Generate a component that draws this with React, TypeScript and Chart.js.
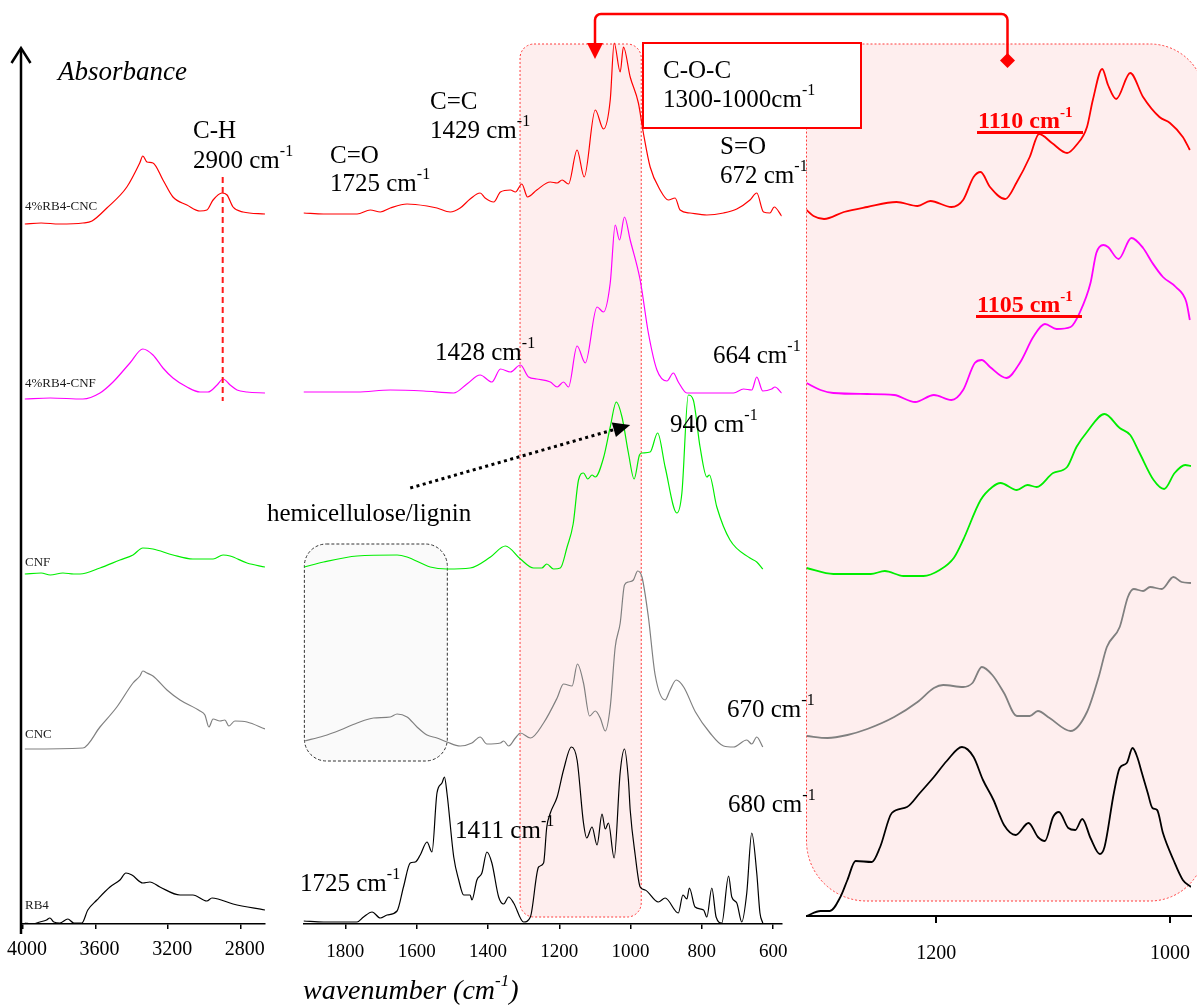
import React, { useEffect, useRef } from 'react';
import { Chart, registerables } from 'chart.js';

Chart.register(...registerables);

type Pt = [number, number];

const W = 1197;
const H = 1005;
const TOP = 34;
const SERIF = "'Liberation Serif', 'Times New Roman', Times, serif";

// ---- axis ticks (wavenumber, cm-1) ----
const TICKS_OH = [4000, 3600, 3200, 2800];
const TICKS_FP = [1800, 1600, 1400, 1200, 1000, 800, 600];
const TICKS_COC = [1200, 1000];

// ---- panel wavenumber ranges [min, max] ----
const RANGE_OH: Pt = [2667, 4000];
const RANGE_FP: Pt = [576, 1918];
const RANGE_COC: Pt = [982, 1311];
// C-O-C stretching window highlighted in the fingerprint panel (left edge, right edge)
const COC_BAND: Pt = [1310, 970];
const CH_BAND = 2900;

// ---- sample names and colours ----
const SAMPLES = ['4%RB4-CNC', '4%RB4-CNF', 'CNF', 'CNC', 'RB4'];
const COLORS = ['#ff0000', '#ff00ff', '#00ee00', '#808080', '#000000'];

// ---- O-H / C-H region (4000-2667 cm-1), offset absorbance ----
const CNC4_OH: Pt[] = [[3990,70.0],[3900,70.1],[3800,70.0],[3670,70.1],[3620,70.3],[3538,71.6],[3428,73.7],[3357,76.1],[3340,76.8],[3317,76.2],[3284,76.1],[3229,74.4],[3174,72.7],[3097,71.9],[3025,71.3],[2987,71.4],[2953,72.4],[2904,73.1],[2876,72.9],[2843,71.7],[2788,71.2],[2667,71.0]];
const CNF4_OH: Pt[] = [[3990,52.5],[3850,52.6],[3670,52.5],[3576,53.1],[3504,54.2],[3411,56.1],[3340,57.5],[3284,56.9],[3229,55.6],[3174,54.6],[3097,53.7],[3025,53.2],[2981,53.2],[2931,53.9],[2898,54.5],[2859,53.9],[2821,53.4],[2766,53.2],[2667,53.1]];
const CNF_OH: Pt[] = [[3990,35.0],[3900,35.1],[3850,34.9],[3780,35.1],[3720,35.0],[3686,35.0],[3576,35.6],[3466,36.4],[3394,36.9],[3340,37.6],[3284,37.5],[3174,36.9],[3064,36.5],[2953,36.5],[2898,36.9],[2859,36.8],[2766,36.1],[2667,35.7]];
const CNC_OH: Pt[] = [[3990,17.5],[3670,17.6],[3576,19.7],[3483,21.7],[3394,24.1],[3356,24.8],[3340,25.3],[3317,25.1],[3284,24.8],[3207,23.4],[3135,22.4],[3025,21.3],[2998,20.9],[2976,19.7],[2953,20.5],[2915,20.3],[2888,20.4],[2866,19.8],[2833,20.3],[2766,20.2],[2667,19.5]];
const RB4_OH: Pt[] = [[3990,0.1],[3950,0.0],[3907,0.2],[3870,0.4],[3852,0.6],[3830,0.2],[3797,0.1],[3753,0.5],[3720,0.1],[3676,0.1],[3643,1.4],[3593,2.4],[3521,3.7],[3466,4.4],[3433,5.1],[3400,4.9],[3340,4.1],[3301,4.2],[3246,3.7],[3135,2.9],[3064,2.9],[2987,2.3],[2959,2.6],[2926,2.5],[2843,2.0],[2667,1.4]];

// ---- fingerprint region (1918-576 cm-1) ----
const CNC4_FP: Pt[] = [[1917,71.1],[1861,71.0],[1767,71.0],[1730,71.4],[1702,71.2],[1674,71.6],[1627,72.0],[1571,71.8],[1543,71.6],[1506,71.2],[1478,71.6],[1450,72.5],[1422,73.1],[1408,72.6],[1384,72.2],[1365,73.2],[1337,73.4],[1323,73.2],[1305,74.0],[1289,72.7],[1263,73.4],[1225,74.2],[1206,74.1],[1192,74.4],[1174,74.0],[1150,77.4],[1130,74.7],[1099,81.4],[1076,79.5],[1057,82.4],[1046,88.1],[1029,85.2],[1020,87.7],[1001,84.7],[978,82.1],[964,79.1],[945,75.7],[917,73.4],[894,72.4],[875,72.6],[861,71.4],[833,71.1],[786,70.9],[739,71.1],[702,71.5],[665,72.4],[646,73.1],[627,71.2],[609,71.1],[597,71.7],[576,70.8]];
const CNF4_FP: Pt[] = [[1917,53.2],[1767,53.2],[1674,53.4],[1580,53.3],[1496,53.1],[1459,54.0],[1422,54.9],[1389,54.2],[1365,55.5],[1337,55.2],[1309,55.9],[1286,54.7],[1263,54.5],[1225,54.2],[1206,53.7],[1188,54.2],[1174,53.7],[1150,57.8],[1127,56.1],[1094,61.7],[1076,61.2],[1057,64.1],[1043,69.9],[1031,68.4],[1017,70.7],[1001,68.4],[973,64.4],[950,59.1],[926,55.4],[898,54.3],[880,55.1],[866,54.2],[842,53.1],[795,53.1],[711,53.1],[683,53.5],[660,53.4],[646,54.7],[629,53.3],[604,53.5],[595,53.7],[576,53.1]];
const CNF_FP: Pt[] = [[1915,35.7],[1861,36.2],[1767,36.8],[1655,36.9],[1627,36.7],[1562,35.7],[1515,35.5],[1450,35.6],[1393,36.7],[1351,37.8],[1309,36.5],[1272,35.6],[1249,35.6],[1235,36.0],[1216,35.5],[1197,35.6],[1178,37.7],[1161,40.0],[1146,44.4],[1132,45.1],[1120,44.5],[1108,44.9],[1099,44.7],[1076,46.6],[1057,49.7],[1040,52.2],[1024,50.7],[1006,47.1],[990,44.5],[975,46.9],[968,47.1],[945,47.2],[924,49.1],[903,45.7],[870,41.1],[856,43.1],[838,52.9],[824,52.4],[805,47.7],[786,44.7],[779,44.9],[758,41.7],[721,38.4],[665,36.6],[646,36.2],[629,35.5]];
const CNC_FP: Pt[] = [[1915,18.3],[1861,18.8],[1814,19.4],[1767,20.1],[1721,20.6],[1674,20.7],[1655,21.0],[1627,20.7],[1599,19.7],[1571,18.9],[1543,18.6],[1515,18.2],[1478,17.8],[1445,18.1],[1422,18.7],[1403,18.0],[1365,18.1],[1356,18.3],[1342,17.8],[1323,18.6],[1309,19.1],[1281,18.6],[1244,20.1],[1206,22.6],[1188,24.0],[1164,23.8],[1149,26.0],[1132,24.1],[1115,20.8],[1099,21.3],[1085,20.6],[1071,19.3],[1057,21.7],[1043,27.7],[1029,30.1],[1017,33.9],[1006,34.2],[992,34.4],[980,35.3],[968,34.7],[950,30.7],[931,24.9],[903,22.4],[889,23.4],[872,24.4],[851,23.7],[818,21.2],[777,19.1],[739,17.8],[711,17.7],[674,18.4],[660,18.0],[646,18.7],[629,17.7]];
const RB4_FP: Pt[] = [[1917,0.3],[1861,0.2],[1767,0.2],[1749,0.7],[1725,1.2],[1702,0.6],[1683,0.9],[1655,1.3],[1637,3.7],[1618,6.1],[1604,6.2],[1590,6.9],[1571,8.2],[1557,7.2],[1543,13.1],[1529,14.1],[1522,14.7],[1515,13.1],[1496,6.7],[1482,4.4],[1468,2.9],[1450,2.9],[1445,2.4],[1431,4.4],[1417,5.1],[1403,7.2],[1389,6.1],[1370,2.7],[1356,2.0],[1342,2.7],[1328,2.1],[1300,0.2],[1281,0.7],[1258,5.7],[1244,6.1],[1235,9.7],[1225,11.1],[1206,12.7],[1188,15.4],[1166,17.7],[1150,16.4],[1132,10.1],[1123,8.6],[1108,9.7],[1094,7.9],[1080,11.0],[1071,9.5],[1062,10.1],[1046,6.6],[1029,15.2],[1017,17.5],[1006,14.4],[1001,11.4],[987,6.9],[973,3.7],[959,3.4],[922,2.2],[903,2.6],[866,1.1],[853,2.9],[842,2.5],[835,3.6],[819,1.7],[795,1.4],[786,0.7],[772,3.6],[760,0.7],[744,0.1],[725,4.8],[716,2.7],[702,2.1],[688,0.2],[674,3.1],[660,9.1],[646,5.1],[637,1.1],[629,0.1]];

// ---- C-O-C region (1311-982 cm-1), rescaled ----
const CNC4_COC: Pt[] = [[1311,70.6],[1305,70.0],[1296,69.7],[1279,70.4],[1259,70.9],[1234,71.4],[1216,71.0],[1205,71.5],[1187,70.9],[1177,71.6],[1168,73.9],[1162,74.4],[1154,72.9],[1141,71.7],[1131,73.4],[1120,75.9],[1112,78.2],[1101,77.3],[1088,76.3],[1080,77.1],[1071,78.9],[1066,81.6],[1058,84.7],[1053,83.1],[1046,81.7],[1034,84.3],[1023,81.9],[1009,79.9],[1000,79.3],[989,77.9],[983,76.6]];
const CNF4_COC: Pt[] = [[1311,53.3],[1299,52.6],[1288,52.3],[1259,52.2],[1236,52.1],[1218,51.4],[1202,52.1],[1187,51.6],[1177,52.6],[1167,55.3],[1161,55.6],[1154,54.9],[1140,53.8],[1128,55.4],[1117,57.9],[1107,59.2],[1097,58.7],[1085,58.9],[1077,60.4],[1068,63.3],[1063,66.3],[1057,67.1],[1053,66.9],[1044,65.7],[1033,67.8],[1023,66.8],[1015,65.3],[1006,63.9],[995,62.9],[986,61.4],[983,59.6]];
const CNF_COC: Pt[] = [[1311,34.8],[1288,34.2],[1256,34.2],[1244,34.5],[1228,34.0],[1211,34.0],[1197,34.6],[1185,35.8],[1177,37.6],[1162,41.6],[1152,42.9],[1145,43.3],[1131,42.6],[1122,43.1],[1114,42.9],[1100,44.3],[1088,44.9],[1080,46.9],[1071,48.4],[1056,50.2],[1043,48.8],[1034,48.1],[1026,46.3],[1014,43.6],[1005,42.7],[996,44.3],[987,45.1],[982,45.0]];
const CNC_COC: Pt[] = [[1311,18.0],[1293,17.8],[1276,18.1],[1259,18.7],[1236,19.9],[1216,21.4],[1202,22.8],[1194,23.1],[1177,22.9],[1169,23.3],[1161,24.9],[1152,24.1],[1142,22.3],[1131,20.0],[1120,20.0],[1113,20.5],[1103,19.8],[1085,18.5],[1071,20.4],[1061,23.9],[1054,26.9],[1043,28.9],[1036,31.9],[1031,32.7],[1023,32.5],[1017,32.9],[1007,32.7],[997,33.9],[990,33.4],[982,33.3]];
const RB4_COC: Pt[] = [[1311,0.0],[1299,0.5],[1291,0.5],[1282,1.9],[1276,3.6],[1269,5.5],[1255,5.4],[1248,6.9],[1238,10.3],[1225,10.9],[1214,12.3],[1202,13.9],[1191,15.5],[1178,16.9],[1168,15.9],[1160,13.6],[1151,11.6],[1142,9.1],[1132,8.1],[1121,9.3],[1113,7.9],[1107,7.5],[1100,9.9],[1095,10.4],[1087,8.8],[1081,8.6],[1075,9.7],[1068,7.8],[1060,6.2],[1056,6.9],[1048,12.3],[1043,14.8],[1037,15.3],[1032,16.8],[1028,15.9],[1024,14.3],[1019,12.3],[1015,10.8],[1011,10.6],[1006,8.3],[997,5.6],[989,3.6],[982,2.9]];

const PINK = 'rgba(245, 120, 120, 0.13)';
const PINK_EDGE = '#ff3b3b';

type Panel = {
  series: Pt[][];
  range: Pt;
  ticks: number[];
  left: number;
  right: number;
  bottom: number;
  lineWidth: number;
  axisWidth: number;
  tickLen: number;
  tickSize: number;
  labelCenter: number;
  labelShift: number;
  plugin: any;
};

const ohDecor = {
  id: 'ohDecor',
  afterDatasetsDraw(chart: any) {
    const { ctx, scales } = chart;
    ctx.save();
    // absorbance arrow
    ctx.strokeStyle = '#000';
    ctx.lineWidth = 2.5;
    ctx.beginPath();
    ctx.moveTo(21, 934);
    ctx.lineTo(21, 49);
    ctx.stroke();
    ctx.beginPath();
    ctx.moveTo(11.5, 63);
    ctx.lineTo(21, 48);
    ctx.lineTo(30.5, 63);
    ctx.stroke();
    // C-H band marker
    const cx = scales.x.getPixelForValue(CH_BAND);
    ctx.strokeStyle = '#ff1a1a';
    ctx.lineWidth = 2;
    ctx.setLineDash([6, 4]);
    ctx.beginPath();
    ctx.moveTo(cx, 177);
    ctx.lineTo(cx, 401);
    ctx.stroke();
    ctx.restore();
  },
};

const fpDecor = {
  id: 'fpDecor',
  beforeDatasetsDraw(chart: any) {
    const { ctx, scales } = chart;
    const { x, y } = scales;
    ctx.save();
    // C-O-C window
    const x1 = x.getPixelForValue(COC_BAND[0]);
    const x2 = x.getPixelForValue(COC_BAND[1]);
    ctx.beginPath();
    ctx.roundRect(x1, 44, x2 - x1, 873, 14);
    ctx.fillStyle = PINK;
    ctx.fill();
    ctx.setLineDash([2, 2]);
    ctx.strokeStyle = PINK_EDGE;
    ctx.lineWidth = 1;
    ctx.stroke();
    // hemicellulose / lignin carbonyl window
    const bx1 = x.getPixelForValue(1915);
    const bx2 = x.getPixelForValue(1514);
    const by1 = y.getPixelForValue(38);
    const by2 = y.getPixelForValue(16.3);
    ctx.beginPath();
    ctx.roundRect(bx1, by1, bx2 - bx1, by2 - by1, 22);
    ctx.fillStyle = 'rgba(0,0,0,0.018)';
    ctx.fill();
    ctx.setLineDash([3, 2]);
    ctx.strokeStyle = '#333';
    ctx.stroke();
    ctx.restore();
  },
  afterDatasetsDraw(chart: any) {
    const { ctx, scales } = chart;
    const { x, y } = scales;
    const p0 = { x: x.getPixelForValue(1618), y: y.getPixelForValue(43.6) };
    const p1 = { x: x.getPixelForValue(1001), y: y.getPixelForValue(49.9) };
    const ang = Math.atan2(p1.y - p0.y, p1.x - p0.x);
    const len = 17;
    const hw = 7.5;
    const bx = p1.x - len * Math.cos(ang);
    const by = p1.y - len * Math.sin(ang);
    ctx.save();
    ctx.strokeStyle = '#000';
    ctx.fillStyle = '#000';
    ctx.lineWidth = 3;
    ctx.setLineDash([3, 3.5]);
    ctx.beginPath();
    ctx.moveTo(p0.x, p0.y);
    ctx.lineTo(bx, by);
    ctx.stroke();
    ctx.setLineDash([]);
    ctx.beginPath();
    ctx.moveTo(p1.x, p1.y);
    ctx.lineTo(bx + hw * Math.sin(ang), by - hw * Math.cos(ang));
    ctx.lineTo(bx - hw * Math.sin(ang), by + hw * Math.cos(ang));
    ctx.closePath();
    ctx.fill();
    ctx.restore();
  },
};

const cocDecor = {
  id: 'cocDecor',
  beforeDatasetsDraw(chart: any) {
    const { ctx, scales } = chart;
    const x1 = scales.x.getPixelForValue(RANGE_COC[1]);
    ctx.save();
    ctx.beginPath();
    ctx.roundRect(x1, 44, 1205 - x1, 857, [0, 55, 55, 60]);
    ctx.fillStyle = PINK;
    ctx.fill();
    ctx.setLineDash([2, 2]);
    ctx.strokeStyle = PINK_EDGE;
    ctx.lineWidth = 1;
    ctx.stroke();
    ctx.restore();
  },
  afterDatasetsDraw(chart: any) {
    const { ctx } = chart;
    ctx.save();
    // label frame
    ctx.fillStyle = '#fff';
    ctx.fillRect(643, 43, 218, 85);
    ctx.strokeStyle = '#ff0000';
    ctx.lineWidth = 2;
    ctx.strokeRect(643, 43, 218, 85);
    // connector between the two C-O-C windows
    ctx.lineWidth = 2.5;
    ctx.beginPath();
    ctx.moveTo(595, 46);
    ctx.lineTo(595, 20);
    ctx.arcTo(595, 14, 601, 14, 6);
    ctx.lineTo(1001, 14);
    ctx.arcTo(1007.5, 14, 1007.5, 20, 6);
    ctx.lineTo(1007.5, 55);
    ctx.stroke();
    ctx.fillStyle = '#ff0000';
    ctx.beginPath();
    ctx.moveTo(587, 43);
    ctx.lineTo(603, 43);
    ctx.lineTo(595, 59);
    ctx.closePath();
    ctx.fill();
    ctx.beginPath();
    ctx.moveTo(1007.5, 53);
    ctx.lineTo(1015, 60.5);
    ctx.lineTo(1007.5, 68);
    ctx.lineTo(1000, 60.5);
    ctx.closePath();
    ctx.fill();
    ctx.restore();
  },
};

const OH_PANEL: Panel = {
  series: [CNC4_OH, CNF4_OH, CNF_OH, CNC_OH, RB4_OH],
  range: RANGE_OH, ticks: TICKS_OH, left: 23, right: 265, bottom: 924,
  lineWidth: 1.2, axisWidth: 1.5, tickLen: 5, tickSize: 20, labelCenter: 950, labelShift: 4, plugin: ohDecor,
};
const FP_PANEL: Panel = {
  series: [CNC4_FP, CNF4_FP, CNF_FP, CNC_FP, RB4_FP],
  range: RANGE_FP, ticks: TICKS_FP, left: 303.3, right: 781.7, bottom: 924,
  lineWidth: 1.2, axisWidth: 1.5, tickLen: 5, tickSize: 19, labelCenter: 952, labelShift: 0, plugin: fpDecor,
};
const COC_PANEL: Panel = {
  series: [CNC4_COC, CNF4_COC, CNF_COC, CNC_COC, RB4_COC],
  range: RANGE_COC, ticks: TICKS_COC, left: 806.5, right: 1191, bottom: 916,
  lineWidth: 1.8, axisWidth: 2, tickLen: 7, tickSize: 20, labelCenter: 953.5, labelShift: 0, plugin: cocDecor,
};

function buildChart(canvas: HTMLCanvasElement, p: Panel) {
  // labels are centred half a line below the tick end, so the line height sets the gap
  const lineHeightPx = 2 * (p.labelCenter - p.bottom - p.tickLen);
  return new Chart(canvas, {
    type: 'line',
    data: {
      datasets: p.series.map((pts, i) => ({
        label: SAMPLES[i],
        data: pts.map(([x, y]) => ({ x, y })),
        borderColor: COLORS[i],
        borderWidth: p.lineWidth,
        pointRadius: 0,
        fill: false,
        cubicInterpolationMode: 'monotone' as const,
        borderJoinStyle: 'round' as const,
      })),
    },
    options: {
      animation: false,
      responsive: false,
      devicePixelRatio: 1,
      events: [],
      layout: { padding: { left: p.left, right: W - p.right, top: TOP, bottom: 0 } },
      plugins: { legend: { display: false }, tooltip: { enabled: false } },
      scales: {
        x: {
          type: 'linear',
          reverse: true,
          min: p.range[0],
          max: p.range[1],
          afterFit: (s: any) => { s.height = H - p.bottom; },
          afterBuildTicks: (s: any) => { s.ticks = p.ticks.map((v) => ({ value: v })); },
          grid: { drawOnChartArea: false, drawTicks: true, tickLength: p.tickLen, color: '#000', lineWidth: p.axisWidth },
          border: { display: true, color: '#000', width: p.axisWidth },
          ticks: {
            color: '#000',
            padding: 0,
            labelOffset: p.labelShift,
            autoSkip: false,
            maxRotation: 0,
            font: { family: SERIF, size: p.tickSize, lineHeight: lineHeightPx / p.tickSize },
            callback: (v: any) => String(v),
          },
        },
        y: { display: false, min: 0, max: (p.bottom - TOP) / 10 },
      },
    } as any,
    plugins: [p.plugin],
  });
}

type NoteSpec = { text: string; sup?: string; after?: string; x: number; y: number };

// band assignments and peak positions
const NOTES: NoteSpec[] = [
  { text: 'C-H', x: 193, y: 117 },
  { text: '2900 cm', sup: '-1', x: 193, y: 147 },
  { text: 'C=O', x: 330, y: 142 },
  { text: '1725 cm', sup: '-1', x: 330, y: 170 },
  { text: 'C=C', x: 430, y: 88 },
  { text: '1429 cm', sup: '-1', x: 430, y: 117 },
  { text: 'S=O', x: 720, y: 133 },
  { text: '672 cm', sup: '-1', x: 720, y: 162 },
  { text: 'C-O-C', x: 663, y: 57 },
  { text: '1300-1000cm', sup: '-1', x: 663, y: 86 },
  { text: '1428 cm', sup: '-1', x: 435, y: 339 },
  { text: '664 cm', sup: '-1', x: 713, y: 342 },
  { text: '940 cm', sup: '-1', x: 670, y: 411 },
  { text: 'hemicellulose/lignin', x: 267, y: 500 },
  { text: '670 cm', sup: '-1', x: 727, y: 696 },
  { text: '680 cm', sup: '-1', x: 728, y: 791 },
  { text: '1411 cm', sup: '-1', x: 455, y: 817 },
  { text: '1725 cm', sup: '-1', x: 300, y: 870 },
];

const SAMPLE_LABEL_Y = [199, 376, 555, 727, 898];

const BOLD_NOTES: NoteSpec[] = [
  { text: '1110 cm', sup: '-1', x: 978, y: 108 },
  { text: '1105 cm', sup: '-1', x: 977, y: 292 },
];

function Note(props: NoteSpec & { size: number; italic?: boolean; bold?: boolean; color?: string }) {
  const { text, sup, after, x, y, size, italic, bold, color = '#000' } = props;
  return (
    <div
      style={{
        position: 'absolute', left: x, top: y, fontFamily: SERIF, fontSize: size, lineHeight: 1,
        fontStyle: italic ? 'italic' : 'normal', fontWeight: bold ? 700 : 400, color, whiteSpace: 'nowrap',
      }}
    >
      {text}
      {sup ? (
        <span style={{ fontSize: Math.round(size * 0.62), position: 'relative', top: -Math.round(size * 0.46), lineHeight: 0 }}>
          {sup}
        </span>
      ) : null}
      {after}
    </div>
  );
}

export default function App() {
  const ohRef = useRef<HTMLCanvasElement>(null);
  const fpRef = useRef<HTMLCanvasElement>(null);
  const cocRef = useRef<HTMLCanvasElement>(null);

  useEffect(() => {
    const charts = [
      buildChart(ohRef.current!, OH_PANEL),
      buildChart(fpRef.current!, FP_PANEL),
      buildChart(cocRef.current!, COC_PANEL),
    ];
    return () => charts.forEach((c) => c.destroy());
  }, []);

  const canvasStyle: React.CSSProperties = { position: 'absolute', left: 0, top: 0, width: W, height: H };

  return (
    <div style={{ position: 'absolute', left: 0, top: 0, width: W, height: H, background: '#fff', overflow: 'hidden' }}>
      <canvas ref={ohRef} width={W} height={H} style={canvasStyle} />
      <canvas ref={fpRef} width={W} height={H} style={canvasStyle} />
      <canvas ref={cocRef} width={W} height={H} style={canvasStyle} />
      <Note text="Absorbance" x={58} y={58} size={27} italic />
      <Note text="wavenumber (cm" sup="-1" after=")" x={303} y={976} size={28} italic />
      {SAMPLES.map((s, i) => (
        <Note key={s} text={s} x={25} y={SAMPLE_LABEL_Y[i]} size={13} color="#1a1a1a" />
      ))}
      {NOTES.map((n, i) => (
        <Note key={i} {...n} size={25} />
      ))}
      {BOLD_NOTES.map((n, i) => (
        <React.Fragment key={'b' + i}>
          <Note {...n} size={24} bold color="#ff0000" />
          <div style={{ position: 'absolute', left: n.x - 1, top: n.y + 22.5, width: 106, height: 3.5, background: '#ff0000' }} />
        </React.Fragment>
      ))}
    </div>
  );
}
